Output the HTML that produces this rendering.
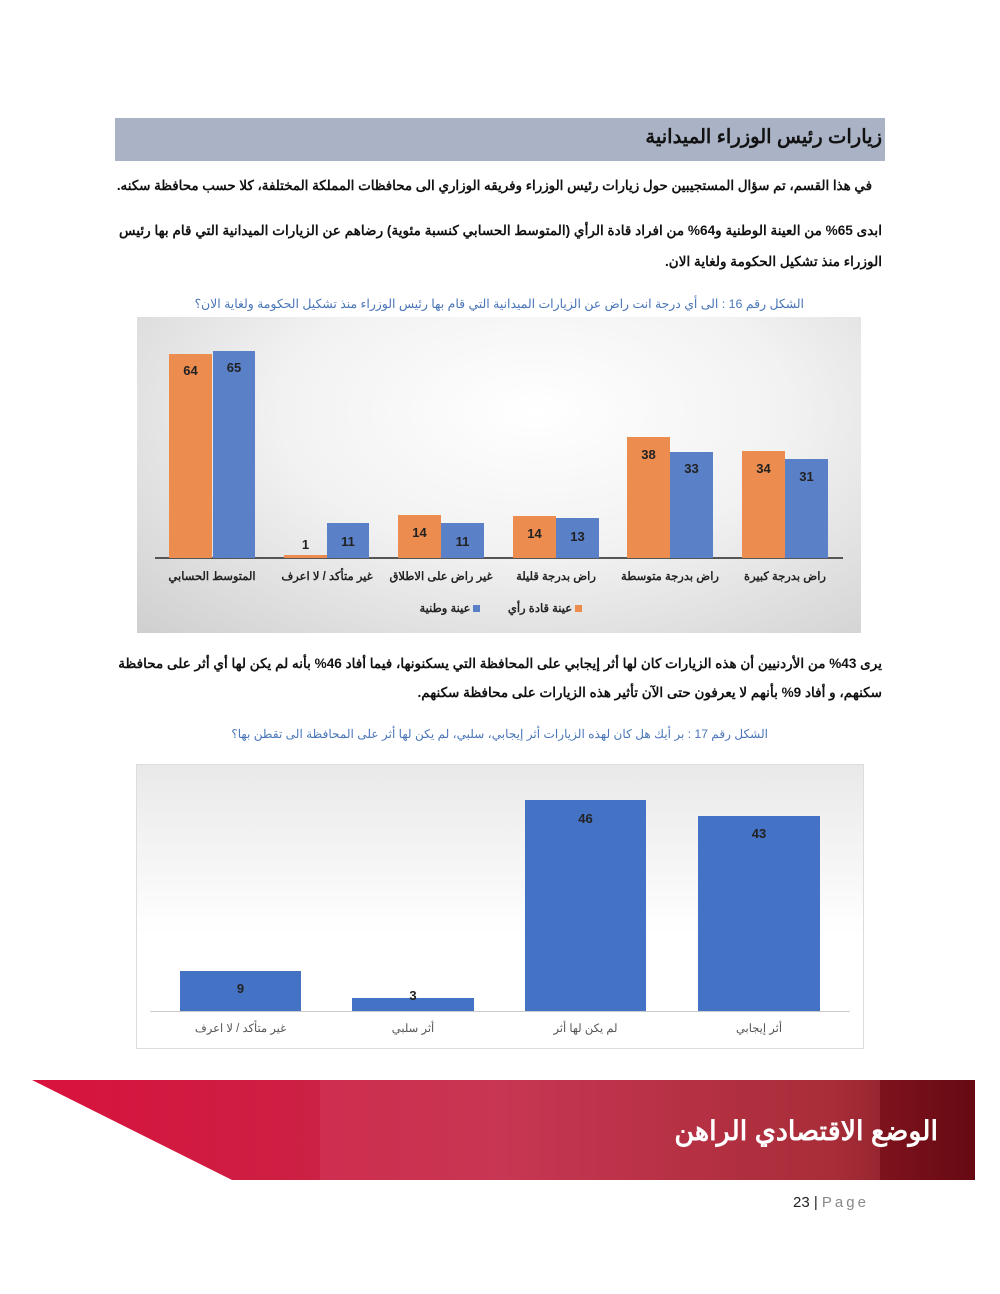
<!DOCTYPE html>
<html><head><meta charset="utf-8"><style>
body{margin:0;background:#fff;}
#p{position:relative;width:1000px;height:1294px;overflow:hidden;font-family:"Liberation Sans","Noto Sans CJK SC",sans-serif;color:#111;}
.a{position:absolute;}
.t{position:absolute;direction:rtl;white-space:nowrap;}
.bar{position:absolute;}
.o{background:#ec8c4f;}
.b{background:#5a80c8;}
.b2{background:#4472c4;}
.v{position:absolute;font-weight:bold;font-size:13px;text-align:center;color:#222;}
.lb{position:absolute;font-weight:bold;font-size:11.5px;text-align:center;direction:rtl;white-space:nowrap;color:#222;}
</style></head><body><div id="p">
<div class="a" style="left:115px;top:118px;width:770px;height:43px;background:#aab3c6;"></div>
<div class="t" style="right:118px;top:125px;font-size:19.5px;font-weight:bold;">زيارات رئيس الوزراء الميدانية</div>
<div class="t" style="right:128px;top:178px;font-size:13.4px;font-weight:bold;">في هذا القسم، تم سؤال المستجيبين حول زيارات رئيس الوزراء وفريقه الوزاري الى محافظات المملكة المختلفة، كلا حسب محافظة سكنه.</div>
<div class="t" style="right:118px;top:223px;font-size:13.6px;font-weight:bold;">ابدى 65% من العينة الوطنية و64% من افراد قادة الرأي (المتوسط الحسابي كنسبة مئوية) رضاهم عن الزيارات الميدانية التي قام بها رئيس</div>
<div class="t" style="right:118px;top:254px;font-size:13.6px;font-weight:bold;">الوزراء منذ تشكيل الحكومة ولغاية الان.</div>
<div class="t" style="right:196px;top:296px;font-size:12.4px;color:#4a76b8;">الشكل رقم 16 : الى أي درجة انت راض عن الزيارات الميدانية التي قام بها رئيس الوزراء منذ تشكيل الحكومة ولغاية الان؟</div>

<div class="a" style="left:137px;top:317px;width:724px;height:316px;background:radial-gradient(ellipse at 55% 30%,#ffffff 0%,#f2f2f2 45%,#cfcfcf 100%);"></div>
<div class="a" style="left:155px;top:557px;width:688px;height:2px;background:#555;"></div>
<div class="bar o" style="left:169px;top:354px;width:43px;height:204px;"></div>
<div class="bar b" style="left:213px;top:351px;width:42px;height:207px;"></div>
<div class="bar o" style="left:284px;top:555px;width:43px;height:3px;"></div>
<div class="bar b" style="left:327px;top:523px;width:42px;height:35px;"></div>
<div class="bar o" style="left:398px;top:515px;width:43px;height:43px;"></div>
<div class="bar b" style="left:441px;top:523px;width:43px;height:35px;"></div>
<div class="bar o" style="left:513px;top:516px;width:43px;height:42px;"></div>
<div class="bar b" style="left:556px;top:518px;width:43px;height:40px;"></div>
<div class="bar o" style="left:627px;top:437px;width:43px;height:121px;"></div>
<div class="bar b" style="left:670px;top:452px;width:43px;height:106px;"></div>
<div class="bar o" style="left:742px;top:451px;width:43px;height:107px;"></div>
<div class="bar b" style="left:785px;top:459px;width:43px;height:99px;"></div>
<div class="v" style="left:169px;top:363px;width:43px;">64</div>
<div class="v" style="left:213px;top:360px;width:42px;">65</div>
<div class="v" style="left:284px;top:537px;width:43px;">1</div>
<div class="v" style="left:327px;top:534px;width:42px;">11</div>
<div class="v" style="left:398px;top:525px;width:43px;">14</div>
<div class="v" style="left:441px;top:534px;width:43px;">11</div>
<div class="v" style="left:513px;top:526px;width:43px;">14</div>
<div class="v" style="left:556px;top:529px;width:43px;">13</div>
<div class="v" style="left:627px;top:447px;width:43px;">38</div>
<div class="v" style="left:670px;top:461px;width:43px;">33</div>
<div class="v" style="left:742px;top:461px;width:43px;">34</div>
<div class="v" style="left:785px;top:469px;width:43px;">31</div>
<div class="lb" style="left:152px;top:569px;width:120px;">المتوسط الحسابي</div>
<div class="lb" style="left:267px;top:569px;width:120px;">غير متأكد / لا اعرف</div>
<div class="lb" style="left:381px;top:569px;width:120px;">غير راض على الاطلاق</div>
<div class="lb" style="left:496px;top:569px;width:120px;">راض بدرجة قليلة</div>
<div class="lb" style="left:610px;top:569px;width:120px;">راض بدرجة متوسطة</div>
<div class="lb" style="left:725px;top:569px;width:120px;">راض بدرجة كبيرة</div>
<div class="lb" style="left:500px;top:601px;width:90px;"><span style="display:inline-block;width:7px;height:7px;background:#ec8c4f;margin-left:3px;"></span>عينة قادة رأي</div>
<div class="lb" style="left:405px;top:601px;width:90px;"><span style="display:inline-block;width:7px;height:7px;background:#5a80c8;margin-left:3px;"></span>عينة وطنية</div>

<div class="t" style="right:118px;top:656px;font-size:13.55px;font-weight:bold;">يرى 43% من الأردنيين أن هذه الزيارات كان لها أثر إيجابي على المحافظة التي يسكنونها، فيما أفاد 46% بأنه لم يكن لها أي أثر على محافظة</div>
<div class="t" style="right:118px;top:685px;font-size:13.55px;font-weight:bold;">سكنهم، و أفاد 9% بأنهم لا يعرفون حتى الآن تأثير هذه الزيارات على محافظة سكنهم.</div>
<div class="t" style="right:232px;top:727px;font-size:12.1px;color:#4a76b8;">الشكل رقم 17 : بر أيك هل كان لهذه الزيارات أثر إيجابي، سلبي، لم يكن لها أثر على المحافظة الى تقطن بها؟</div>

<div class="a" style="left:136px;top:764px;width:726px;height:283px;border:1px solid #ddd;background:linear-gradient(#e9e9e9,#ffffff 60%);"></div>
<div class="a" style="left:150px;top:1011px;width:700px;height:1px;background:#ccc;"></div>
<div class="bar b2" style="left:180px;top:971px;width:121px;height:40px;"></div>
<div class="bar b2" style="left:352px;top:998px;width:122px;height:13px;"></div>
<div class="bar b2" style="left:525px;top:800px;width:121px;height:211px;"></div>
<div class="bar b2" style="left:698px;top:816px;width:122px;height:195px;"></div>
<div class="v" style="left:180px;top:981px;width:121px;">9</div>
<div class="v" style="left:352px;top:988px;width:122px;">3</div>
<div class="v" style="left:525px;top:811px;width:121px;">46</div>
<div class="v" style="left:698px;top:826px;width:122px;">43</div>
<div class="lb" style="left:180px;top:1021px;width:121px;font-weight:normal;color:#555;">غير متأكد / لا اعرف</div>
<div class="lb" style="left:352px;top:1021px;width:122px;font-weight:normal;color:#555;">أثر سلبي</div>
<div class="lb" style="left:525px;top:1021px;width:121px;font-weight:normal;color:#555;">لم يكن لها أثر</div>
<div class="lb" style="left:698px;top:1021px;width:122px;font-weight:normal;color:#555;">أثر إيجابي</div>

<svg class="a" style="left:0;top:1078px;" width="1000" height="104">
<defs><linearGradient id="g" x1="0" x2="1"><stop offset="0" stop-color="#d8123d"/><stop offset="0.5" stop-color="#c42a48"/><stop offset="0.85" stop-color="#a3202c"/><stop offset="1" stop-color="#6e0a14"/></linearGradient></defs>
<polygon points="32,2 975,2 975,102 232,102" fill="url(#g)"/>
<rect x="320" y="2" width="560" height="100" fill="#ffffff" opacity="0.06"/>
<rect x="880" y="2" width="95" height="100" fill="#5a0810" opacity="0.35"/>
</svg>
<div class="t" style="right:62px;top:1116px;font-size:27px;font-weight:bold;color:#fff;">الوضع الاقتصادي الراهن</div>
<div class="a" style="left:793px;top:1194px;font-size:15px;color:#222;">23 | <span style="color:#888;letter-spacing:3px;">Page</span></div>
</div></body></html>
